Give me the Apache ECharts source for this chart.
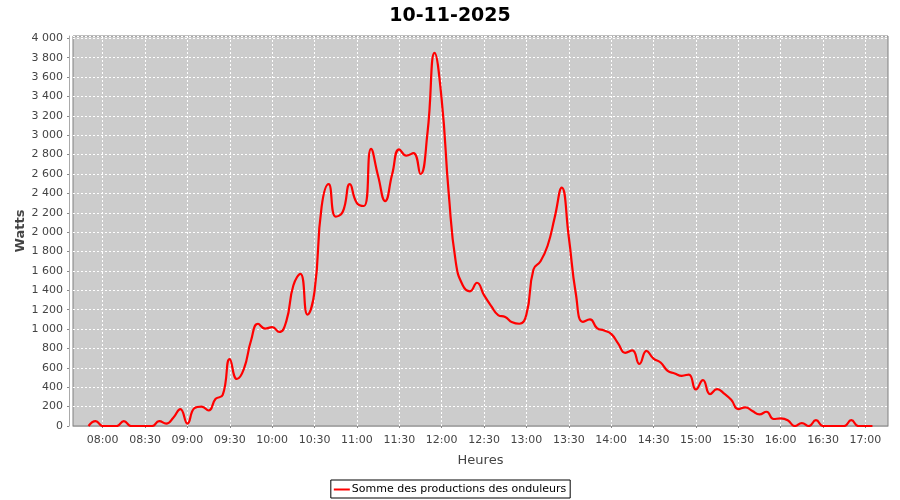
<!DOCTYPE html>
<html>
<head>
<meta charset="utf-8">
<script src="https://cdn.jsdelivr.net/npm/echarts@6/dist/echarts.min.js"></script>
<style>
html,body{margin:0;padding:0;background:#fff;}
#chart{width:900px;height:500px;}
</style>
</head>
<body>
<div id="chart"></div>
<script>
const chartTitle = '10-11-2025';
const seriesName = 'Somme des productions des onduleurs';
const xAxisName = 'Heures';
const yAxisName = 'Watts';

const times = [
 '07:50','07:55','08:00','08:05','08:10','08:15','08:20','08:25','08:30','08:35','08:40','08:45','08:50','08:55',
 '09:00','09:05','09:10','09:15','09:20','09:25','09:30','09:35','09:40','09:45','09:50','09:55',
 '10:00','10:05','10:10','10:15','10:20','10:25','10:30','10:35','10:40','10:45','10:50','10:55',
 '11:00','11:05','11:10','11:15','11:20','11:25','11:30','11:35','11:40','11:45','11:50','11:55',
 '12:00','12:05','12:10','12:15','12:20','12:25','12:30','12:35','12:40','12:45','12:50','12:55',
 '13:00','13:05','13:10','13:15','13:20','13:25','13:30','13:35','13:40','13:45','13:50','13:55',
 '14:00','14:05','14:10','14:15','14:20','14:25','14:30','14:35','14:40','14:45','14:50','14:55',
 '15:00','15:05','15:10','15:15','15:20','15:25','15:30','15:35','15:40','15:45','15:50','15:55',
 '16:00','16:05','16:10','16:15','16:20','16:25','16:30','16:35','16:40','16:45','16:50','16:55',
 '17:00','17:05'
];
const watts = [
 0,50,0,0,0,50,0,0,0,0,50,25,85,175,
 25,185,200,160,280,320,690,485,590,880,1055,1005,
 1020,970,1080,1450,1570,1150,1390,2260,2495,2160,2210,2495,
 2300,2270,2860,2580,2320,2600,2855,2790,2815,2600,3030,3850,
 3370,2400,1690,1450,1390,1478,1350,1240,1145,1125,1070,1055,
 1150,1615,1700,1860,2150,2460,1950,1365,1075,1100,1010,985,
 950,850,755,780,640,775,695,655,570,542,518,531,
 377,473,329,380,335,270,175,192,155,120,147,72,
 78,60,0,30,0,60,0,0,0,0,60,0,
 0,0
];
const xTickLabels = ['08:00','08:30','09:00','09:30','10:00','10:30','11:00','11:30','12:00','12:30','13:00','13:30','14:00','14:30','15:00','15:30','16:00','16:30','17:00'];
const xRange = ['07:39','17:16'];
const yMin = 0, yMax = 4024, yStep = 200;

function toMin(s){ const p = s.split(':'); return (+p[0])*60 + (+p[1]); }
function toHHMM(m){ const h = Math.floor(m/60), mm = Math.round(m%60); return String(h).padStart(2,'0')+':'+String(mm).padStart(2,'0'); }
function fmtThousands(v){ return String(v).replace(/\B(?=(\d{3})+(?!\d))/g, ' '); }

const data = times.map((t,i)=>[toMin(t), watts[i]]);
const tickVals = xTickLabels.map(toMin);
const FONT = 'DejaVu Sans';

const chart = echarts.init(document.getElementById('chart'), null, {renderer:'canvas'});
chart.setOption({
  animation: false,
  backgroundColor: '#ffffff',
  textStyle: {fontFamily: FONT},
  title: {
    text: chartTitle, left: 'center', top: 2,
    textStyle: {fontFamily: FONT, fontSize: 19, fontWeight: 'bold', color: '#000'}
  },
  legend: {
    data: [seriesName],
    left: 'center', bottom: 2,
    borderColor: '#000', borderWidth: 1, borderRadius: 0,
    padding: [4, 4, 3, 3],
    icon: 'rect', itemWidth: 16, itemHeight: 2, itemGap: 5,
    textStyle: {fontFamily: FONT, fontSize: 11, color: '#000', padding: [0,0,0,-3]}
  },
  grid: {
    left: 73, right: 12, top: 36, bottom: 74,
    show: true, backgroundColor: '#cccccc', borderColor: '#808080', borderWidth: 1,
    containLabel: false
  },
  xAxis: {
    type: 'value', min: toMin(xRange[0]), max: toMin(xRange[1]),
    offset: 4,
    name: xAxisName, nameLocation: 'middle', nameGap: 24, nameMoveOverlap: false,
    nameTextStyle: {fontFamily: FONT, fontSize: 13, color: '#444'},
    axisLine: {show: true, lineStyle: {color: '#aaaaaa', width: 1}},
    axisTick: {show: true, length: 2, customValues: tickVals, lineStyle: {color: '#888'}},
    axisLabel: {customValues: tickVals, formatter: v => toHHMM(v), fontFamily: FONT, fontSize: 11, color: '#444', margin: 5},
    splitLine: {show: true, lineStyle: {color: '#ffffff', type: [2,2], width: 1}}
  },
  yAxis: {
    type: 'value', min: yMin, max: yMax, interval: yStep,
    offset: 4,
    name: yAxisName, nameLocation: 'middle', nameGap: 42, nameRotate: 90, nameMoveOverlap: false,
    nameTextStyle: {fontFamily: FONT, fontSize: 13, fontWeight: 'bold', color: '#444'},
    axisLine: {show: true, lineStyle: {color: '#aaaaaa', width: 1}},
    axisTick: {show: true, length: 2, lineStyle: {color: '#888'}},
    axisLabel: {showMaxLabel: false, formatter: v => (v % yStep === 0 ? fmtThousands(v) : ''), fontFamily: FONT, fontSize: 11, color: '#444', margin: 6},
    splitLine: {show: true, lineStyle: {color: '#ffffff', type: [2,2], width: 1}}
  },
  series: [{
    name: seriesName, type: 'line', data: data,
    smooth: 0.5, showSymbol: false, symbol: 'none',
    lineStyle: {color: '#ff0000', width: 2.2},
    itemStyle: {color: '#ff0000'}
  }]
});
</script>
</body>
</html>
